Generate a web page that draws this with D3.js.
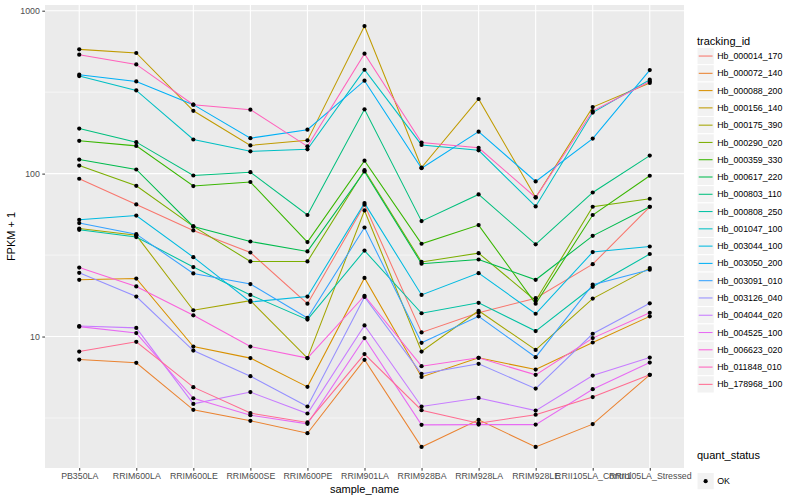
<!DOCTYPE html>
<html>
<head>
<meta charset="utf-8">
<script src="https://cdn.jsdelivr.net/npm/d3@7"></script>
<style>
  body { margin: 0; background: #fff; }
  text { font-family: "Liberation Sans", Arial, Helvetica, sans-serif; }
</style>
</head>
<body>
<svg id="chart" width="800" height="500"></svg>
<script>
// sample names on the x axis
var samples = ['PB350LA', 'RRIM600LA', 'RRIM600LE', 'RRIM600SE', 'RRIM600PE', 'RRIM901LA',
    'RRIM928BA', 'RRIM928LA', 'RRIM928LE', 'RRII105LA_Control', 'RRII105LA_Stressed'];

var trackingIds = ['Hb_000014_170', 'Hb_000072_140', 'Hb_000088_200', 'Hb_000156_140', 'Hb_000175_390',
    'Hb_000290_020', 'Hb_000359_330', 'Hb_000617_220', 'Hb_000803_110', 'Hb_000808_250',
    'Hb_001047_100', 'Hb_003044_100', 'Hb_003050_200', 'Hb_003091_010', 'Hb_003126_040',
    'Hb_004044_020', 'Hb_004525_100', 'Hb_006623_020', 'Hb_011848_010', 'Hb_178968_100'];

// ggplot default hue palette for 20 levels
var colors = ['#F8766D', '#EA8331', '#D89000', '#C09B00', '#A3A500', '#7CAE00', '#39B600', '#00BB4E',
    '#00BF7D', '#00C1A3', '#00BFC4', '#00BAE0', '#00B0F6', '#35A2FF', '#9590FF', '#C77CFF',
    '#E76BF3', '#FA62DB', '#FF62BC', '#FF6C91'];

// FPKM + 1, one value per sample
var hb_000014_170 = [93.0, 64.7, 44.8, 32.8, 15.9, 64.4, 10.6, 14.0, 17.2, 27.8, 62.6];
var hb_000072_140 = [7.22, 6.90, 3.55, 3.04, 2.55, 7.20, 2.10, 3.08, 2.10, 2.90, 5.82];
var hb_000088_200 = [22.3, 22.7, 8.68, 7.37, 4.91, 22.9, 5.65, 7.40, 6.27, 9.19, 13.3];
var hb_000156_140 = [579, 550, 243, 149, 160, 805, 109, 287, 71.4, 256, 360];
var hb_000175_390 = [46.0, 41.8, 14.5, 16.6, 7.37, 59.4, 8.09, 14.4, 8.28, 17.1, 26.3];
var hb_000290_020 = [112, 84.2, 47.4, 28.9, 28.9, 105, 28.7, 32.5, 16.6, 62.6, 70.1];
var hb_000359_330 = [159, 148, 83.9, 88.8, 38.0, 120, 37.1, 48.3, 15.9, 55.7, 97.0];
var hb_000617_220 = [122, 106, 47.4, 38.3, 33.3, 103, 28.0, 29.7, 22.3, 41.5, 62.6];
var hb_000803_110 = [189, 156, 97.4, 102, 55.7, 248, 51.1, 74.5, 36.8, 76.6, 129];
var hb_000808_250 = [45.2, 40.8, 26.7, 18.0, 12.7, 33.7, 13.9, 16.1, 10.8, 20.2, 32.1];
var hb_001047_100 = [397, 324, 162, 137, 141, 434, 150, 139, 62.9, 237, 377];
var hb_003044_100 = [52.1, 55.3, 30.7, 16.3, 17.6, 65.9, 18.0, 24.5, 13.8, 33.0, 35.7];
var hb_003050_200 = [405, 368, 265, 165, 186, 372, 108, 181, 89.5, 164, 432];
var hb_003091_010 = [49.7, 42.5, 24.4, 21.0, 13.0, 46.7, 9.15, 13.3, 7.47, 20.8, 25.7];
var hb_003126_040 = [24.6, 17.6, 8.20, 5.71, 3.72, 17.5, 5.90, 6.80, 4.79, 10.4, 16.0];
var hb_004044_020 = [11.6, 11.3, 3.86, 4.56, 3.37, 11.7, 3.72, 4.20, 3.51, 5.76, 7.43];
var hb_004525_100 = [11.5, 10.5, 4.18, 3.29, 2.91, 9.78, 2.87, 2.88, 2.88, 4.75, 6.92];
var hb_006623_020 = [26.5, 20.3, 13.5, 8.68, 7.37, 17.8, 6.58, 7.40, 5.82, 9.78, 14.0];
var hb_011848_010 = [537, 468, 265, 247, 147, 545, 155, 144, 71.4, 242, 368];
var hb_178968_100 = [8.09, 9.28, 4.89, 3.39, 2.97, 7.80, 3.53, 2.94, 3.31, 4.25, 5.82];

var yTicks = [10, 100, 1000];
var yMinor = [3.1623, 31.623, 316.23];

var seriesValues = [hb_000014_170, hb_000072_140, hb_000088_200, hb_000156_140, hb_000175_390,
    hb_000290_020, hb_000359_330, hb_000617_220, hb_000803_110, hb_000808_250,
    hb_001047_100, hb_003044_100, hb_003050_200, hb_003091_010, hb_003126_040,
    hb_004044_020, hb_004525_100, hb_006623_020, hb_011848_010, hb_178968_100];

var series = trackingIds.map(function (id, i) {
    return {
        id: id,
        color: colors[i],
        points: samples.map(function (s, j) { return { x: s, y: seriesValues[i][j] }; })
    };
});

// panel box (ggplot layout)
var panel = { left: 45, right: 684, top: 5, bottom: 468 };

var svg = d3.select('#chart');

// log scale with ggplot's 5% expansion in log space
var allVals = d3.merge(seriesValues);
var lo = Math.log10(d3.min(allVals)), hi = Math.log10(d3.max(allVals));
var pad = (hi - lo) * 0.05;
var yScale = d3.scaleLog()
    .domain([Math.pow(10, lo - pad), Math.pow(10, hi + pad)])
    .range([panel.bottom, panel.top]);

var xScale = d3.scalePoint()
    .domain(samples)
    .range([panel.left, panel.right])
    .padding(0.6);

// panel background
svg.append('rect')
    .attr('x', panel.left).attr('y', panel.top)
    .attr('width', panel.right - panel.left)
    .attr('height', panel.bottom - panel.top)
    .attr('fill', '#EBEBEB');

// minor grid
svg.selectAll('.ymin').data(yMinor).enter().append('line')
    .attr('x1', panel.left).attr('x2', panel.right)
    .attr('y1', function (d) { return yScale(d); })
    .attr('y2', function (d) { return yScale(d); })
    .attr('stroke', '#fff').attr('stroke-width', 0.55);

// major grid
svg.selectAll('.ymaj').data(yTicks).enter().append('line')
    .attr('x1', panel.left).attr('x2', panel.right)
    .attr('y1', function (d) { return yScale(d); })
    .attr('y2', function (d) { return yScale(d); })
    .attr('stroke', '#fff').attr('stroke-width', 1.1);

svg.selectAll('.xmaj').data(samples).enter().append('line')
    .attr('y1', panel.top).attr('y2', panel.bottom)
    .attr('x1', function (d) { return xScale(d); })
    .attr('x2', function (d) { return xScale(d); })
    .attr('stroke', '#fff').attr('stroke-width', 1.1);

// axes
var yAxis = svg.append('g')
    .attr('transform', 'translate(' + panel.left + ',0)')
    .call(d3.axisLeft(yScale).tickValues(yTicks).tickSize(2.7).tickPadding(2.5)
        .tickFormat(d3.format('d')));

var xAxis = svg.append('g')
    .attr('transform', 'translate(0,' + panel.bottom + ')')
    .call(d3.axisBottom(xScale).tickSize(2.7).tickPadding(2.2));

[yAxis, xAxis].forEach(function (g) {
    g.select('.domain').remove();
    g.selectAll('.tick line').attr('stroke', '#333333').attr('stroke-width', 1);
    g.selectAll('.tick text')
        .attr('fill', '#4D4D4D')
        .style('font-size', '8.8px')
        .style('font-family', '"Liberation Sans", Arial, sans-serif');
});

// line generator
var line = d3.line()
    .x(function (d) { return xScale(d.x); })
    .y(function (d) { return yScale(d.y); });

svg.selectAll('.series').data(series).enter().append('path')
    .attr('fill', 'none')
    .attr('stroke', function (d) { return d.color; })
    .attr('stroke-width', 1.05)
    .attr('d', function (d) { return line(d.points); });

// points (all quant_status == OK)
series.forEach(function (s) {
    svg.selectAll(null).data(s.points).enter().append('circle')
        .attr('cx', function (d) { return xScale(d.x); })
        .attr('cy', function (d) { return yScale(d.y); })
        .attr('r', 2.1)
        .attr('fill', '#000');
});

// axis titles
svg.append('text')
    .attr('x', (panel.left + panel.right) / 2)
    .attr('y', 493)
    .attr('text-anchor', 'middle')
    .style('font-size', '11px')
    .text('sample_name');

svg.append('text')
    .attr('transform', 'translate(15,' + ((panel.top + panel.bottom) / 2) + ') rotate(-90)')
    .attr('text-anchor', 'middle')
    .style('font-size', '11px')
    .text('FPKM + 1');

// legend: tracking_id
var keySize = 17.28, legX = 697, firstKey = 47.4;
svg.append('text')
    .attr('x', legX).attr('y', 45)
    .style('font-size', '11px')
    .text('tracking_id');

var keys = svg.selectAll('.key').data(series).enter().append('g')
    .attr('transform', function (d, i) { return 'translate(' + legX + ',' + (firstKey + i * keySize) + ')'; });

keys.append('rect')
    .attr('width', keySize).attr('height', keySize)
    .attr('fill', '#F2F2F2').attr('stroke', '#fff').attr('stroke-width', 1);

keys.append('line')
    .attr('x1', keySize * 0.1).attr('x2', keySize * 0.9)
    .attr('y1', keySize / 2).attr('y2', keySize / 2)
    .attr('stroke', function (d) { return d.color; })
    .attr('stroke-width', 1.05);

keys.append('text')
    .attr('x', keySize + 3)
    .attr('y', keySize / 2)
    .attr('dy', '0.35em')
    .style('font-size', '8.8px')
    .text(function (d) { return d.id; });

// legend: quant_status
var qTop = 445;
svg.append('text')
    .attr('x', legX).attr('y', qTop + 14)
    .style('font-size', '11px')
    .text('quant_status');

var qKey = svg.append('g').attr('transform', 'translate(' + legX + ',' + (qTop + 27.5) + ')');
qKey.append('rect')
    .attr('width', keySize).attr('height', keySize)
    .attr('fill', '#F2F2F2').attr('stroke', '#fff');
qKey.append('circle')
    .attr('cx', keySize / 2).attr('cy', keySize / 2).attr('r', 2.1).attr('fill', '#000');
qKey.append('text')
    .attr('x', keySize + 3).attr('y', keySize / 2).attr('dy', '0.35em')
    .style('font-size', '8.8px')
    .text('OK');
</script>
</body>
</html>
